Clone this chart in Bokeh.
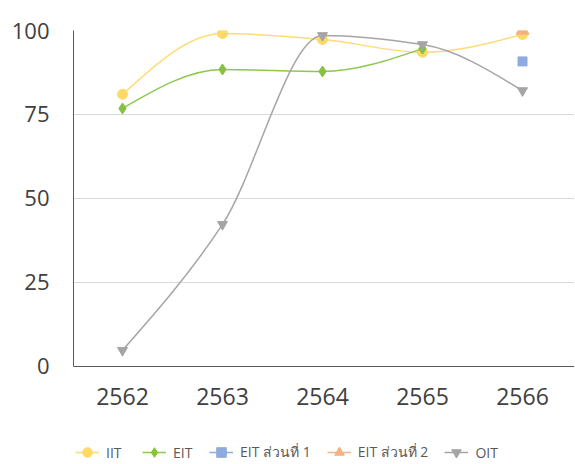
from bokeh.plotting import figure
from bokeh.models import ColumnDataSource, Range1d, Legend, LegendItem, FixedTicker
from bokeh.embed import file_html
from bokeh.resources import INLINE

years = ["2562", "2563", "2564", "2565", "2566"]
iit = [81.0, 99.1, 97.3, 93.5, 98.8]
eit = [76.8, 88.4, 87.8, 94.6, None]
eit_part1 = [None, None, None, None, 90.8]
eit_part2 = [None, None, None, None, 100.0]
oit = [4.8, 42.3, 98.5, 95.8, 82.1]
y_ticks = [0, 25, 50, 75, 100]

FONT = "Open Sans"

p = figure(frame_width=501, frame_height=434, output_backend="svg", toolbar_location=None,
           x_range=Range1d(-0.49, 4.52), y_range=Range1d(-29.17, 100),
           min_border_left=73, min_border_right=0, min_border_top=30, min_border_bottom=0)
p.outline_line_color = None
p.background_fill_color = "white"


def smooth_source(vals):
    """Monotone cubic (Fritsch-Carlson) segments expressed as Bezier control points."""
    pts = [(i, v) for i, v in enumerate(vals) if v is not None]
    n = len(pts)
    d = dict(x0=[], y0=[], x1=[], y1=[], cx0=[], cy0=[], cx1=[], cy1=[])
    if n < 2:
        return ColumnDataSource(d), pts
    sec = [(pts[i + 1][1] - pts[i][1]) / (pts[i + 1][0] - pts[i][0]) for i in range(n - 1)]
    m = [0.0] * n
    for i in range(1, n - 1):
        a, b = sec[i - 1], sec[i]
        m[i] = 0.0 if a * b <= 0 else 2 * a * b / (a + b)
    m[0] = (3 * sec[0] - m[1]) / 2 if n > 2 else sec[0]
    m[-1] = (3 * sec[-1] - m[-2]) / 2 if n > 2 else sec[-1]
    for i in range(n - 1):
        (xa, ya), (xb, yb) = pts[i], pts[i + 1]
        h = xb - xa
        d["x0"].append(xa); d["y0"].append(ya)
        d["x1"].append(xb); d["y1"].append(yb)
        d["cx0"].append(xa + h / 3); d["cy0"].append(ya + m[i] * h / 3)
        d["cx1"].append(xb - h / 3); d["cy1"].append(yb - m[i + 1] * h / 3)
    return ColumnDataSource(d), pts


series = [
    ("IIT", iit, "#FFD966", "#FFDC73", "circle", 10),
    ("EIT", eit, "#86C23F", "#8CC84B", "diamond", 11),
    ("EIT ส่วนที่ 1", eit_part1, "#8FAADC", "#8FAADC", "square", 9),
    ("EIT ส่วนที่ 2", eit_part2, "#F4B183", "#F4B183", "triangle", 13),
    ("OIT", oit, "#A5A5A5", "#A5A5A5", "inverted_triangle", 10),
]

items = []
for name, vals, mcolor, lcolor, marker, size in series:
    src, pts = smooth_source(vals)
    if len(pts) > 1:
        p.bezier(x0="x0", y0="y0", x1="x1", y1="y1", cx0="cx0", cy0="cy0",
                 cx1="cx1", cy1="cy1", source=src, line_color=lcolor, line_width=1.5)
    xs = [q[0] for q in pts]
    ys = [q[1] for q in pts]
    leg_line = p.line(x=[xs[0]], y=[ys[0]], line_color=lcolor, line_width=1.5)
    sc = p.scatter(x=xs, y=ys, marker=marker, size=size, fill_color=mcolor, line_color=mcolor)
    items.append(LegendItem(label=name, renderers=[leg_line, sc]))

legend = Legend(items=items, orientation="horizontal", location=(2, 0),
                label_text_font=FONT, label_text_font_size="14px", label_text_color="#595959",
                glyph_width=24, glyph_height=24, spacing=16, label_standoff=7,
                border_line_color=None, background_fill_alpha=0, margin=0, padding=0)
p.add_layout(legend, "center")

p.xaxis.ticker = FixedTicker(ticks=list(range(len(years))))
p.xaxis.major_label_overrides = {i: y for i, y in enumerate(years)}
p.xaxis.fixed_location = 0
p.yaxis.ticker = FixedTicker(ticks=y_ticks)
p.yaxis.bounds = (0, 100)

for ax in (p.xaxis, p.yaxis):
    ax.axis_line_color = "#595959"
    ax.axis_line_width = 1
    ax.major_tick_line_color = None
    ax.minor_tick_line_color = None
    ax.major_label_text_font = FONT
    ax.major_label_text_color = "#404040"
p.xaxis.major_label_text_font_size = "23px"
p.yaxis.major_label_text_font_size = "22px"
p.yaxis.major_label_standoff = 18
p.xaxis.major_label_standoff = 16

p.xgrid.grid_line_color = None
p.ygrid.grid_line_color = "#D9D9D9"
p.ygrid.ticker = FixedTicker(ticks=[25, 50, 75, 100])

open("out.html", "w").write(file_html(p, INLINE))
